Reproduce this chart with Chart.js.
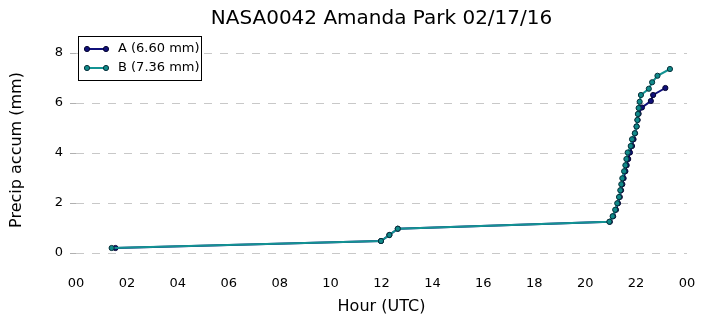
<!DOCTYPE html>
<html>
<head>
<meta charset="utf-8">
<script src="https://cdn.jsdelivr.net/npm/chart.js@4.4.1/dist/chart.umd.min.js"></script>
<style>
  html, body { margin: 0; padding: 0; background: #fff; }
</style>
</head>
<body>
<canvas id="chart" width="706" height="326"></canvas>
<script>
// station gauges, accumulated precip (mm) vs hour UTC
const chartTitle = 'NASA0042 Amanda Park 02/17/16';
const seriesNames = ['A (6.60 mm)', 'B (7.36 mm)'];

const hoursA = [1.55, 11.98, 12.31, 12.64, 20.97, 21.10, 21.21, 21.29, 21.36, 21.41, 21.46, 21.51, 21.58,
  21.63, 21.69, 21.76, 21.84, 21.90, 21.96, 22.02, 22.06, 22.10, 22.23, 22.58, 22.67, 23.15];
const precipA = [0.20, 0.48, 0.72, 0.97, 1.25, 1.47, 1.73, 1.99, 2.24, 2.51, 2.75, 2.99, 3.27,
  3.51, 3.76, 4.02, 4.28, 4.55, 4.79, 5.06, 5.32, 5.57, 5.82, 6.08, 6.32, 6.60];

const hoursB = [1.40, 11.98, 12.31, 12.64, 20.95, 21.08, 21.18, 21.26, 21.33, 21.38, 21.42, 21.46, 21.53,
  21.58, 21.62, 21.67, 21.79, 21.84, 21.95, 22.02, 22.05, 22.07, 22.10, 22.14, 22.19, 22.50, 22.63, 22.84, 23.33];
const precipB = [0.20, 0.48, 0.72, 0.97, 1.25, 1.47, 1.73, 1.99, 2.24, 2.51, 2.75, 2.99, 3.27,
  3.51, 3.76, 4.02, 4.28, 4.55, 4.79, 5.06, 5.32, 5.56, 5.80, 6.05, 6.32, 6.57, 6.83, 7.09, 7.36];

const xTickValues = [0, 2, 4, 6, 8, 10, 12, 14, 16, 18, 20, 22, 24];
const xTickLabels = ['00', '02', '04', '06', '08', '10', '12', '14', '16', '18', '20', '22', '00'];
const yTickValues = [0, 2, 4, 6, 8];

const FONT = '"DejaVu Sans", "Liberation Sans", sans-serif';

function toPoints(xs, ys) {
  return xs.map((x, i) => ({ x: x, y: ys[i] }));
}

// title centred over the plot + matplotlib style legend box
const decorations = {
  id: 'decorations',
  afterDraw(chart) {
    const ctx = chart.ctx;
    const area = chart.chartArea;
    ctx.save();
    ctx.fillStyle = '#000';
    ctx.font = '20px ' + FONT;
    ctx.textAlign = 'center';
    ctx.textBaseline = 'middle';
    ctx.fillText(chartTitle, (area.left + area.right) / 2, 19);

    const x0 = area.left + 2, y0 = area.top + 6;
    ctx.fillStyle = '#fff';
    ctx.fillRect(x0, y0, 123, 44);
    ctx.strokeStyle = '#000';
    ctx.lineWidth = 1;
    ctx.strokeRect(x0 + 0.5, y0 + 0.5, 123, 44);
    chart.data.datasets.forEach((ds, i) => {
      const y = y0 + 13 + i * 19;
      ctx.strokeStyle = ds.borderColor;
      ctx.lineWidth = 2;
      ctx.beginPath();
      ctx.moveTo(x0 + 9, y);
      ctx.lineTo(x0 + 28, y);
      ctx.stroke();
      [x0 + 9, x0 + 28].forEach(px => {
        ctx.beginPath();
        ctx.arc(px, y, 2.6, 0, Math.PI * 2);
        ctx.fillStyle = ds.pointBackgroundColor;
        ctx.fill();
        ctx.strokeStyle = ds.pointBorderColor;
        ctx.lineWidth = 1;
        ctx.stroke();
      });
      ctx.fillStyle = '#000';
      ctx.font = '13px ' + FONT;
      ctx.textAlign = 'left';
      ctx.fillText(ds.label, x0 + 40, y);
    });
    ctx.restore();
  }
};

new Chart(document.getElementById('chart'), {
  type: 'line',
  data: {
    datasets: [
      {
        label: seriesNames[0],
        data: toPoints(hoursA, precipA),
        borderColor: '#10107a',
        backgroundColor: '#10107a',
        pointBackgroundColor: '#10107a',
        pointBorderColor: '#050530',
        borderWidth: 2,
        pointRadius: 2.6,
        pointBorderWidth: 1,
        order: 1
      },
      {
        label: seriesNames[1],
        data: toPoints(hoursB, precipB),
        borderColor: '#139393',
        backgroundColor: '#139393',
        pointBackgroundColor: '#108a8a',
        pointBorderColor: '#06303a',
        borderWidth: 2,
        pointRadius: 2.6,
        pointBorderWidth: 1,
        order: 0
      }
    ]
  },
  options: {
    responsive: false,
    animation: false,
    layout: { padding: { left: 0, right: 19, top: 30, bottom: 0 } },
    plugins: {
      legend: { display: false },
      tooltip: { enabled: false },
      title: { display: false }
    },
    scales: {
      x: {
        type: 'linear',
        min: 0,
        max: 24,
        afterBuildTicks: scale => { scale.ticks = xTickValues.map(v => ({ value: v })); },
        afterFit: scale => { scale.height = 56; },
        border: { display: false },
        grid: { display: true, drawOnChartArea: false, drawTicks: false, color: 'rgba(0,0,0,0)' },
        ticks: {
          color: '#000',
          font: { family: FONT, size: 13 },
          padding: 6,
          maxRotation: 0,
          callback: (value, index) => xTickLabels[index]
        },
        title: {
          display: true,
          text: 'Hour (UTC)',
          color: '#000',
          font: { family: FONT, size: 16 },
          padding: { top: 0, bottom: 10 }
        }
      },
      y: {
        type: 'linear',
        min: -0.68,
        max: 8.92,
        afterBuildTicks: scale => { scale.ticks = yTickValues.map(v => ({ value: v })); },
        afterFit: scale => { scale.width = 76; },
        border: { display: false, dash: [8, 8] },
        grid: {
          color: '#c8c8c8',
          lineWidth: 1,
          tickLength: 6,
          tickBorderDash: [],
          tickColor: '#b0b0b0'
        },
        ticks: {
          color: '#000',
          font: { family: FONT, size: 13 },
          padding: 7
        },
        title: {
          display: true,
          text: 'Precip accum (mm)',
          color: '#000',
          font: { family: FONT, size: 16 },
          padding: { top: 7, bottom: 0 }
        }
      }
    }
  },
  plugins: [decorations]
});
</script>
</body>
</html>
